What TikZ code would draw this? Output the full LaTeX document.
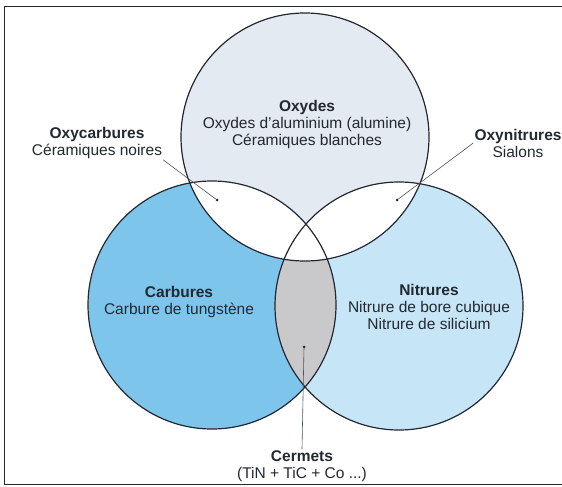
\documentclass[tikz,border=0pt]{standalone}
\usepackage{fontspec}
\setmainfont{Liberation Sans}
\usepackage{tikz}
\usetikzlibrary{positioning}
\definecolor{oxgrey}{HTML}{E4EAF1}
\definecolor{carblue}{HTML}{7EC5EC}
\definecolor{nitblue}{HTML}{C6E6F8}
\definecolor{cergrey}{HTML}{C9C9CB}
\definecolor{inkgrey}{HTML}{232830}
\tikzstyle{label} = [text=inkgrey, align=center, font=\fontsize{15.5}{17}\selectfont, inner sep=1pt]
\tikzstyle{ring} = [draw=inkgrey, line width=1.2pt]
\tikzstyle{leader} = [draw=inkgrey!80, line width=0.6pt]
\tikzstyle{spot} = [circle, fill=inkgrey, inner sep=0pt, minimum size=3pt]

\begin{document}
\begin{tikzpicture}[x=1pt, y=-1pt]
    \useasboundingbox (0,0) rectangle (562,487);
    \draw [inkgrey, line width=0.8pt] (565,6) -- (4,6) -- (4,484) -- (565,484);
    \coordinate (cox) at (305,137);
    \coordinate (ccarb) at (212,305);
    \coordinate (cnit) at (399,306);
    \fill [oxgrey] (cox) circle (124);
    \fill [carblue] (ccarb) circle (124);
    \fill [nitblue] (cnit) circle (124);
    \begin{scope}
        \clip (ccarb) circle (124);
        \fill [cergrey] (cnit) circle (124);
    \end{scope}
    \begin{scope}
        \clip (cox) circle (124);
        \fill [white] (ccarb) circle (124);
        \fill [white] (cnit) circle (124);
    \end{scope}
    \draw [ring] (cox) circle (124);
    \draw [ring] (ccarb) circle (124);
    \draw [ring] (cnit) circle (124);
    \node (oxydes) [label] at (307,124) {\textbf{Oxydes}\\Oxydes d'aluminium (alumine)\\Céramiques blanches};
    \node (carbures) [label] at (179,302) {\textbf{Carbures}\\Carbure de tungstène};
    \node (nitrures) [label] at (429,307) {\textbf{Nitrures}\\Nitrure de bore cubique\\Nitrure de silicium};
    \node (oxycarb) [label] at (97,143) {\textbf{Oxycarbures}\\Céramiques noires};
    \node (oxynit) [label] at (518,143) {\textbf{Oxynitrures}\\Sialons};
    \node (cermets) [label] at (302,466) {\textbf{Cermets}\\(TiN + TiC + Co ...)};
    \node (dotoc) [spot] at (217,200) {};
    \node (dotonit) [spot] at (397,200) {};
    \node (dotcer) [spot] at (304,347) {};
    \draw [leader] (oxycarb.south east) -- (dotoc);
    \draw [leader] (oxynit.west) -- (dotonit);
    \draw [leader] (cermets.north) -- (dotcer);
\end{tikzpicture}
\end{document}
